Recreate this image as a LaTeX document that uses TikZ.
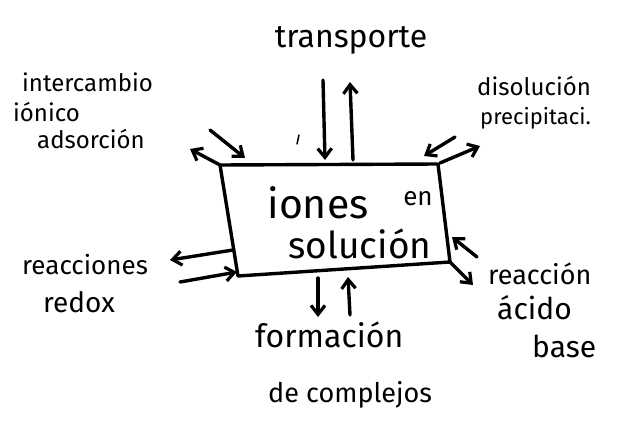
\documentclass[tikz,border=0pt]{standalone}
\usepackage{fontspec}
\setmainfont{Fira Sans}
\usetikzlibrary{arrows.meta}
\tikzset{
  lbl/.style={inner sep=0pt, anchor=center, text=black},
  pen/.style={line width=3.4pt, line cap=round, line join=round, black},
  arr/.style={pen, -{Straight Barb[length=9pt,width=14pt,line width=3.2pt]}},
}
\newcommand{\fs}[1]{\fontsize{#1}{#1}\selectfont}
\begin{document}
\begin{tikzpicture}[x=1pt,y=-1pt]
\useasboundingbox (0,0) rectangle (623,425);
% box corners
\coordinate (tl) at (220,165);
\coordinate (tr) at (438,164);
\coordinate (br) at (450,262);
\coordinate (bl) at (238,276);
\draw[pen] (tl) -- (tr) -- (br) -- (bl) -- cycle;
% box texts
\node[lbl, font=\fs{41}] (iones) at (318,203) {iones};
\node[lbl, font=\fs{26}] (en) at (418,199) {en};
\node[lbl, font=\fs{37}] (sol) at (360,244) {solución};
% outer labels
\node[lbl, font=\fs{32}] (trans) at (351,40) {transporte};
\node[lbl, font=\fs{24}, anchor=west] (int1) at (22,82) {intercambio};
\node[lbl, font=\fs{24}, anchor=west] (int2) at (13,112) {iónico};
\node[lbl, font=\fs{24}, anchor=west] (int3) at (37,139) {adsorción};
\node[lbl, font=\fs{24}, anchor=west] (dis1) at (477,86) {disolución};
\node[lbl, font=\fs{22}, anchor=west] (dis2) at (480,118) {precipitaci.};
\node[lbl, font=\fs{26}, anchor=west] (red1) at (22,265) {reacciones};
\node[lbl, font=\fs{28}, anchor=west] (red2) at (43,302) {redox};
\node[lbl, font=\fs{27}, anchor=west] (ac1) at (488,274) {reacción};
\node[lbl, font=\fs{30}, anchor=west] (ac2) at (497,308) {ácido};
\node[lbl, font=\fs{30}, anchor=west] (ac3) at (532,346) {base};
\node[lbl, font=\fs{32}, anchor=west] (for1) at (255,335) {formación};
\node[lbl, font=\fs{27}, anchor=west] (for2) at (268,395) {de complejos};
% arrow end points
\coordinate (a1s) at (210,130); \coordinate (a1e) at (245,158);
\coordinate (a2e) at (190,149);
\coordinate (a3s) at (323,80);  \coordinate (a3e) at (325,160);
\coordinate (a4s) at (353,160); \coordinate (a4e) at (350,82);
\coordinate (a5s) at (455,137); \coordinate (a5e) at (424,156);
\coordinate (a6s) at (440,163); \coordinate (a6e) at (480,146);
\coordinate (a7s) at (233,250); \coordinate (a7e) at (170,260);
\coordinate (a8s) at (180,282); \coordinate (a8e) at (237,272);
\coordinate (a9s) at (477,257); \coordinate (a9e) at (452,237);
\coordinate (a10e) at (473,285);
\coordinate (a11s) at (318,278); \coordinate (a11e) at (318,317);
\coordinate (a12s) at (350,315); \coordinate (a12e) at (348,277);
\draw[arr] (a1s) -- (a1e);
\draw[arr] (tl) -- (a2e);
\draw[arr] (a3s) -- (a3e);
\draw[arr] (a4s) -- (a4e);
\draw[arr] (a5s) -- (a5e);
\draw[arr] (a6s) -- (a6e);
\draw[arr] (a7s) -- (a7e);
\draw[arr] (a8s) -- (a8e);
\draw[arr] (a9s) -- (a9e);
\draw[arr] (br) -- (a10e);
\draw[arr] (a11s) -- (a11e);
\draw[arr] (a12s) -- (a12e);
% stray pen tick
\coordinate (t1) at (299,135); \coordinate (t2) at (297,144);
\draw[line width=1.5pt, line cap=round] (t1) -- (t2);
\end{tikzpicture}
\end{document}
